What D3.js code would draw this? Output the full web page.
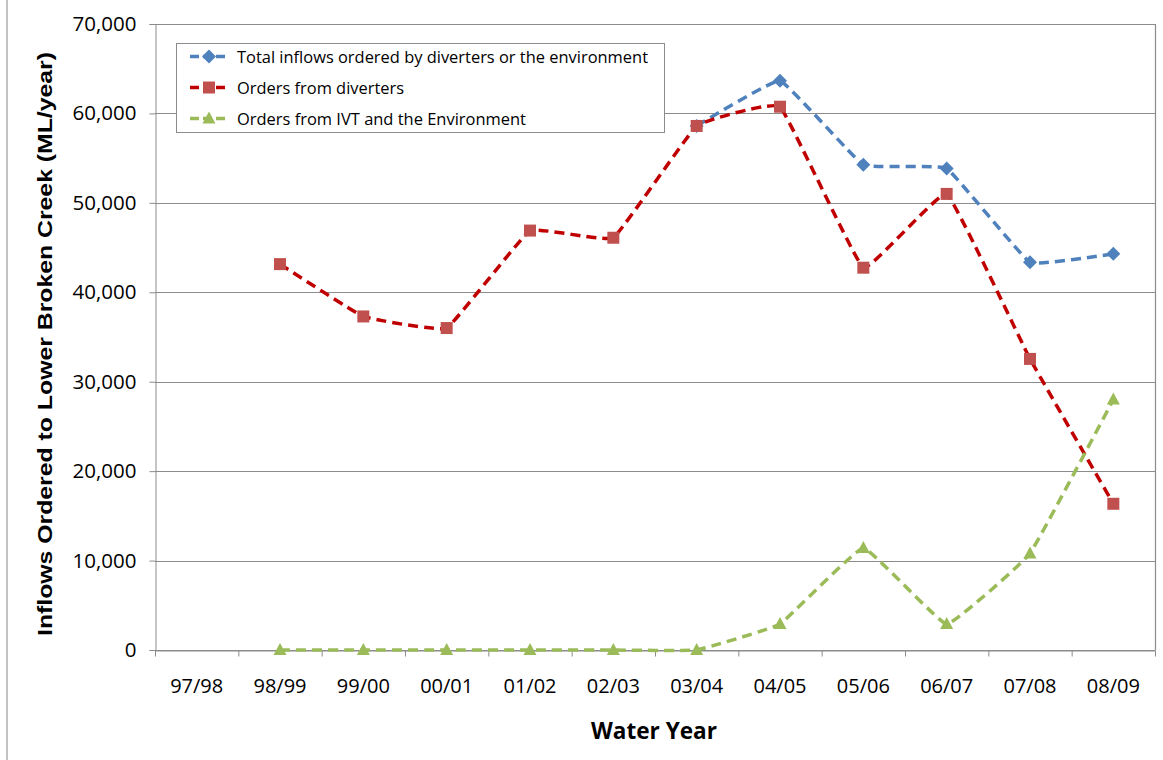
<!DOCTYPE html>
<html>
<head>
<meta charset="utf-8">
<script src="https://cdn.jsdelivr.net/npm/d3@7"></script>
<style>
  html, body { margin: 0; padding: 0; background: #fff; }
  svg { display: block; }
</style>
</head>
<body>
<svg id="chart" width="1163" height="760"></svg>
<script>
const categories = ["97/98","98/99","99/00","00/01","01/02","02/03","03/04","04/05","05/06","06/07","07/08","08/09"];
const totalInflows = [null, null, null, null, null, null, 58600, 63650, 54250, 53850, 43350, 44300];
const diverterOrders = [null, 43150, 37300, 36000, 46900, 46100, 58600, 60750, 42750, 51000, 32550, 16350];
const ivtEnvOrders = [null, 0, 0, 0, 0, 0, 0, 2900, 11400, 2900, 10800, 28000];
const yTicks = [0, 10000, 20000, 30000, 40000, 50000, 60000, 70000];
const seriesNames = ["Total inflows ordered by diverters or the environment", "Orders from diverters", "Orders from IVT and the Environment"];

const svg = d3.select("#chart");
const pLeft = 155, pRight = 1155, pTop = 24, pBottom = 650;

const x = d3.scaleBand().domain(categories).range([pLeft, pRight]).padding(0);
const y = d3.scaleLinear().domain([0, 70000]).range([pBottom, pTop]);
const gridColor = "#8c8c8c";
const labelFont = "Open Sans, Noto Sans, sans-serif";

// outer chart frame left edge
svg.append("line").attr("x1", 7).attr("x2", 7).attr("y1", 0).attr("y2", 760)
  .attr("stroke", "#9a9a9a").attr("stroke-width", 1.2);

// gridlines
svg.append("g").selectAll("line").data(yTicks).join("line")
  .attr("x1", pLeft).attr("x2", pRight)
  .attr("y1", d => Math.round(y(d)) + 0.5).attr("y2", d => Math.round(y(d)) + 0.5)
  .attr("stroke", gridColor).attr("stroke-width", 1);
// right border
svg.append("line").attr("x1", pRight + 0.5).attr("x2", pRight + 0.5).attr("y1", pTop).attr("y2", pBottom)
  .attr("stroke", gridColor).attr("stroke-width", 1.2);

// y axis
const yAxis = d3.axisLeft(y).tickValues(yTicks).tickSize(6).tickPadding(13)
  .tickFormat(d3.format(","));
const gy = svg.append("g").attr("transform", `translate(${pLeft + 0.5},0)`).call(yAxis);
gy.select(".domain").attr("stroke", gridColor);
gy.selectAll(".tick line").attr("stroke", gridColor);
gy.selectAll(".tick text").attr("font-family", labelFont).attr("font-size", 20.5)
  .attr("fill", "#000");

// x axis
const xAxis = d3.axisBottom(x).tickSize(0).tickPadding(28);
const gx = svg.append("g").attr("transform", `translate(0,${pBottom + 0.5})`).call(xAxis);
gx.select(".domain").attr("stroke", gridColor);
gx.selectAll(".tick text").attr("font-family", labelFont).attr("font-size", 20)
  .attr("fill", "#000");
// tick marks at band boundaries
const boundaries = categories.map(c => x(c)).concat([pRight]);
gx.append("g").selectAll("line").data(boundaries).join("line")
  .attr("x1", d => d + 0.5).attr("x2", d => d + 0.5).attr("y1", 0).attr("y2", 6)
  .attr("stroke", gridColor);

// axis titles
svg.append("text")
  .attr("transform", `translate(52,${(52 + 636) / 2}) rotate(-90)`)
  .attr("text-anchor", "middle")
  .attr("font-family", "Liberation Sans Narrow, Liberation Sans, sans-serif")
  .attr("font-weight", "bold").attr("font-size", 19.5)
  .attr("textLength", 584).attr("lengthAdjust", "spacingAndGlyphs")
  .text("Inflows Ordered to Lower Broken Creek (ML/year)");

svg.append("text")
  .attr("x", 654).attr("y", 739)
  .attr("text-anchor", "middle")
  .attr("font-family", "Open Sans, sans-serif")
  .attr("font-weight", "bold").attr("font-size", 24)
  .attr("textLength", 126).attr("lengthAdjust", "spacingAndGlyphs")
  .text("Water Year");

// series
const cx = c => x(c) + x.bandwidth() / 2;
const series = [
  { name: seriesNames[0], values: totalInflows, line: "#4F81BD", fill: "#4F81BD", marker: "diamond" },
  { name: seriesNames[1], values: diverterOrders, line: "#C00000", fill: "#C0504D", marker: "square" },
  { name: seriesNames[2], values: ivtEnvOrders, line: "#9BBB59", fill: "#9BBB59", marker: "triangle" }
];

function markerPath(type) {
  if (type === "diamond") return "M0,-7L7,0L0,7L-7,0Z";
  if (type === "square") return "M-6,-6H6V6H-6Z";
  return "M0,-7L6.5,5L-6.5,5Z";
}

const line = d3.line()
  .defined(d => d.v !== null)
  .x(d => cx(d.c)).y(d => y(d.v))
  .curve(d3.curveCardinal.tension(0.75));

series.forEach(s => {
  const pts = categories.map((c, i) => ({ c, v: s.values[i] }));
  const g = svg.append("g");
  g.append("path").datum(pts.filter(p => p.v !== null))
    .attr("d", line)
    .attr("fill", "none").attr("stroke", s.line).attr("stroke-width", 3.5)
    .attr("stroke-dasharray", "10,6");
  g.selectAll("path.m").data(pts.filter(p => p.v !== null)).join("path")
    .attr("class", "m")
    .attr("d", markerPath(s.marker))
    .attr("transform", d => `translate(${cx(d.c)},${y(d.v)})`)
    .attr("fill", s.fill);
});

// legend
const lg = svg.append("g");
lg.append("rect").attr("x", 176.5).attr("y", 43.5).attr("width", 488).attr("height", 89)
  .attr("fill", "#fff").attr("stroke", gridColor).attr("stroke-width", 1);
const legendY = [56.5, 87.5, 118.5];
const legendW = [411, 167, 289];
series.forEach((s, i) => {
  const ly = legendY[i];
  lg.append("line").attr("x1", 190).attr("x2", 228).attr("y1", ly).attr("y2", ly)
    .attr("stroke", s.line).attr("stroke-width", 3.5).attr("stroke-dasharray", "9,4");
  lg.append("path").attr("d", markerPath(s.marker))
    .attr("transform", `translate(209,${ly})`).attr("fill", s.fill);
  lg.append("text").attr("x", 237).attr("y", ly + 6)
    .attr("font-family", labelFont).attr("font-size", 17)
    .attr("textLength", legendW[i]).attr("lengthAdjust", "spacingAndGlyphs")
    .attr("fill", "#000")
    .text(s.name);
});
</script>
</body>
</html>
